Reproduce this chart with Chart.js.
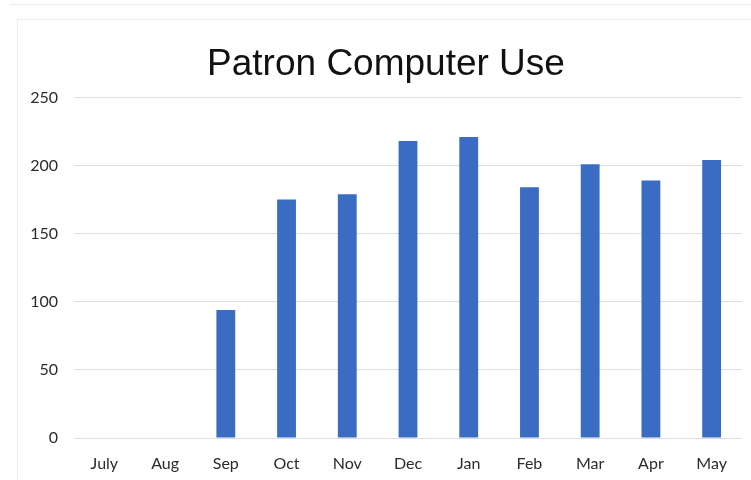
<!DOCTYPE html>
<html>
<head>
<meta charset="utf-8">
<script src="https://cdn.jsdelivr.net/npm/chart.js@4/dist/chart.umd.min.js"></script>
<style>
  html, body { margin: 0; padding: 0; background: #ffffff; }
  #page { position: relative; width: 751px; height: 480px; overflow: hidden; }
  /* faint sheet edge and chart frame */
  #edge { position: absolute; left: 10px; right: 0; top: 4px; height: 0; border-top: 1px solid #ececec; }
  #frame { position: absolute; left: 17px; top: 19px; right: -2px; bottom: -2px; border-left: 1px solid #ececec; border-top: 1px solid #ececec; }
  #usechart { position: absolute; left: 0; top: 0; }
</style>
</head>
<body>
<div id="page">
  <div id="edge"></div>
  <div id="frame"></div>
  <canvas id="usechart" width="751" height="480"></canvas>
</div>
<script>
var months = ['July', 'Aug', 'Sep', 'Oct', 'Nov', 'Dec', 'Jan', 'Feb', 'Mar', 'Apr', 'May'];
var sessions = [0, 0, 94, 175, 179, 218, 221, 184, 201, 189, 204];
var yTicks = [0, 50, 100, 150, 200, 250];

const usechart = document.getElementById("usechart");

usedata = {
    labels: months,
    datasets: [{
        data: sessions,
        backgroundColor: '#3b6cc3',
        borderWidth: 0,
        categoryPercentage: 1,
        barPercentage: 0.31,
    }],
};

new Chart(usechart, {
    type: 'bar',
    data: usedata,
    options: {
        responsive: false,
        animation: false,
        layout: {
            padding: { left: 30, right: 9, top: 0, bottom: 6 }
        },
        plugins: {
            legend: { display: false },
            tooltip: { enabled: false },
            title: {
                display: true,
                text: 'Patron Computer Use',
                color: '#111111',
                font: { family: '"Liberation Sans", Arial, sans-serif', size: 37, weight: 'normal' },
                padding: { top: 43, bottom: 10 }
            }
        },
        scales: {
            x: {
                afterFit: function(scale) {
                    scale.height = 36;
                },
                grid: { display: false, drawTicks: false },
                border: { display: false },
                ticks: {
                    color: '#2b2b2b',
                    padding: 16,
                    font: { family: 'Lato, "Open Sans", sans-serif', size: 16 }
                }
            },
            y: {
                min: 0,
                max: 250,
                afterBuildTicks: function(scale) {
                    scale.ticks = yTicks.map(function(v) { return { value: v }; });
                },
                afterFit: function(scale) {
                    scale.width = 44;
                },
                grid: { color: '#dedede', lineWidth: 1, drawTicks: false },
                border: { display: false },
                ticks: {
                    color: '#2b2b2b',
                    padding: 16,
                    font: { family: 'Lato, "Open Sans", sans-serif', size: 16 }
                }
            }
        }
    }
});
</script>
</body>
</html>
